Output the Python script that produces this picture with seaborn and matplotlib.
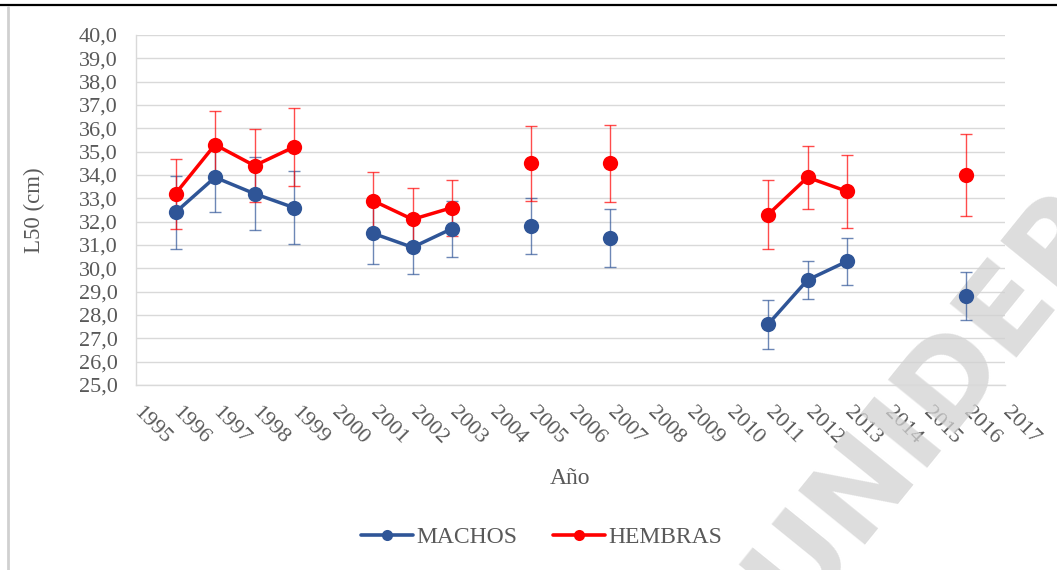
import matplotlib
matplotlib.use("Agg")
import matplotlib.pyplot as plt
import pandas as pd
import seaborn as sns
from matplotlib.lines import Line2D
from matplotlib.ticker import FuncFormatter, MultipleLocator
from matplotlib.transforms import ScaledTranslation

# Talla de primera madurez (L50) por año y sexo, con su intervalo (±)
anios = [1996, 1997, 1998, 1999, 2001, 2002, 2003, 2005, 2007, 2011, 2012, 2013, 2016]
machos = [32.4, 33.9, 33.2, 32.6, 31.5, 30.9, 31.7, 31.8, 31.3, 27.6, 29.5, 30.3, 28.8]
err_machos = [1.55, 1.50, 1.57, 1.57, 1.30, 1.15, 1.20, 1.20, 1.23, 1.04, 0.80, 1.00, 1.03]
hembras = [33.2, 35.3, 34.4, 35.2, 32.9, 32.1, 32.6, 34.5, 34.5, 32.3, 33.9, 33.3, 34.0]
err_hembras = [1.50, 1.45, 1.57, 1.69, 1.24, 1.35, 1.20, 1.60, 1.65, 1.47, 1.36, 1.55, 1.74]
eje_anios = list(range(1995, 2018))
series = ["MACHOS", "HEMBRAS"]
colores = {"MACHOS": "#2F5597", "HEMBRAS": "#FF0000"}
gris_texto = "#595959"


def tramos(years):
    """Identificador de tramo: los años consecutivos comparten línea."""
    ids, t = [], 0
    for i, y in enumerate(years):
        if i > 0 and y - years[i - 1] > 1:
            t += 1
        ids.append(t)
    return ids


df = pd.concat([
    pd.DataFrame({"anio": anios, "L50": machos, "err": err_machos,
                  "sexo": "MACHOS", "tramo": tramos(anios)}),
    pd.DataFrame({"anio": anios, "L50": hembras, "err": err_hembras,
                  "sexo": "HEMBRAS", "tramo": tramos(anios)}),
], ignore_index=True)

sns.set_theme(style="white")
plt.rcParams["font.family"] = ["Liberation Serif", "DejaVu Serif"]

W, H = 1057, 570
fig = plt.figure(figsize=(W / 100, H / 100), dpi=100)
ax = fig.add_axes([136 / W, 1 - 385 / H, (1005 - 136) / W, 350 / H])

# barras de error
for sexo in series:
    d = df[df.sexo == sexo]
    ax.errorbar(d.anio, d.L50, yerr=d.err, fmt="none", ecolor=colores[sexo],
                elinewidth=1.0, capsize=4.3, capthick=1.0, alpha=0.7, zorder=2)

# líneas con marcadores, separadas por tramos de años consecutivos
sns.lineplot(data=df, x="anio", y="L50", hue="sexo", hue_order=series,
             units="tramo", estimator=None, palette=colores, marker="o",
             markersize=11, markeredgewidth=0, linewidth=2.5, legend=False,
             ax=ax, zorder=3)

ax.set_xlim(1995, 2017)
ax.set_ylim(25, 40)
ax.set_xticks(eje_anios)
ax.set_xticklabels([str(a) for a in eje_anios])
ax.yaxis.set_major_locator(MultipleLocator(1))
ax.yaxis.set_major_formatter(FuncFormatter(lambda v, _: f"{v:.1f}".replace(".", ",")))

ax.yaxis.grid(True, color="#D9D9D9", linewidth=1.0)
ax.xaxis.grid(False)
ax.set_axisbelow(True)
for s in ("top", "right"):
    ax.spines[s].set_visible(False)
for s in ("left", "bottom"):
    ax.spines[s].set_color("#D9D9D9")
    ax.spines[s].set_linewidth(1.0)

ax.tick_params(axis="y", length=0, labelsize=16, labelcolor=gris_texto, pad=13)
ax.tick_params(axis="x", length=0, labelsize=16, labelcolor=gris_texto, pad=13)
desplazar = ScaledTranslation(5 / 72, 0, fig.dpi_scale_trans)
for lbl in ax.get_xticklabels():
    lbl.set_rotation(-45)
    lbl.set_ha("left")
    lbl.set_va("top")
    lbl.set_rotation_mode("anchor")
    lbl.set_transform(lbl.get_transform() + desplazar)

ax.set_ylabel("L50 (cm)", fontsize=16.5, color=gris_texto)
ax.yaxis.set_label_coords((45 - 136) / (1005 - 136), 0.5)
ax.set_xlabel("Año", fontsize=17, color=gris_texto)
ax.xaxis.set_label_coords(0.5, (385 - 478) / 350)
ax.xaxis.label.set_va("center")

handles = [Line2D([0], [0], color=colores[s], lw=2.6, marker="o", ms=8,
                  markeredgewidth=0) for s in series]
fig.legend(handles, series, loc="center", bbox_to_anchor=(542 / W, 1 - 537 / H),
           ncol=2, frameon=False, fontsize=17, handlelength=2.2,
           handletextpad=0.15, columnspacing=1.5, labelcolor=gris_texto)

# marco de la figura
fig.add_artist(Line2D([0, 1], [1 - 5 / H] * 2, color="black", lw=1.6,
                      transform=fig.transFigure))
fig.add_artist(Line2D([8 / W] * 2, [0, 1 - 7 / H], color="#D0D0D0", lw=2,
                      transform=fig.transFigure))

# marca de agua: sobre rejilla y etiquetas, por debajo de las series
ax.text(0.878, 0.293, "UNIDEP", rotation=51, fontsize=85, fontweight="bold",
        color="#D2D2D2", alpha=0.75, ha="center", va="center",
        family="DejaVu Sans", transform=fig.transFigure, clip_on=False,
        zorder=1.5)

fig.savefig("out.png", dpi=100)
